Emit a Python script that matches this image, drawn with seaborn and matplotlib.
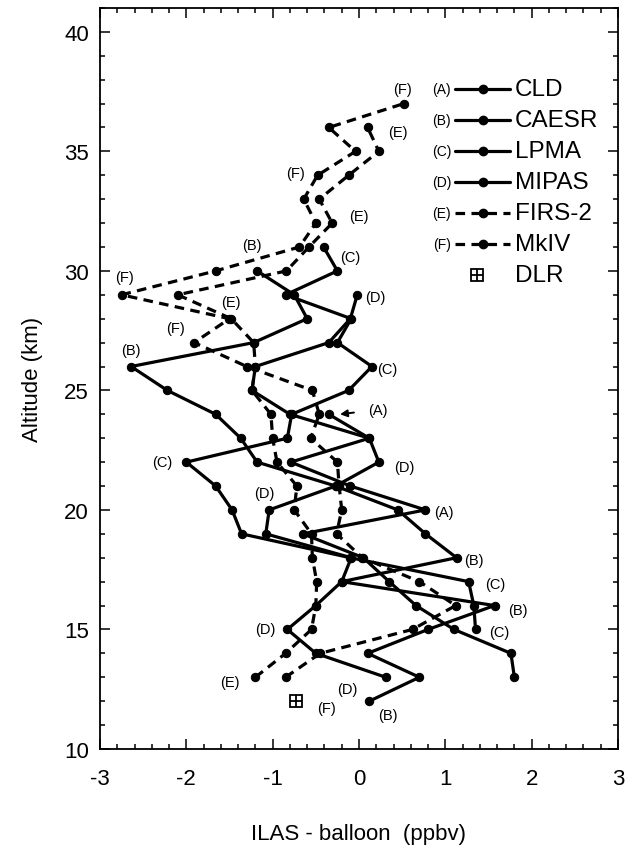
import numpy as np
import pandas as pd
import seaborn as sns
import matplotlib.pyplot as plt
from matplotlib.ticker import MultipleLocator

sns.set_style("ticks")
plt.rcParams['font.family'] = ['Liberation Sans', 'DejaVu Sans']
plt.rcParams['axes.unicode_minus'] = False
for key in ['text.color', 'axes.labelcolor', 'xtick.color', 'ytick.color', 'axes.edgecolor']:
    plt.rcParams[key] = 'black'

# ILAS - balloon differences (ppbv) vs altitude (km)
cld_alt = [24, 23, 22, 21, 20, 19, 18, 17, 16, 15, 14, 13]
cld_val = [-0.35, 0.12, -0.79, -0.10, 0.77, -0.65, 0.05, 0.35, 0.66, 1.10, 1.76, 1.80]

caesr_alt = [12, 13, 14, 15, 16, 17, 18, 19, 20, 21, 22, 23, 24, 25, 26, 27, 28, 29, 30]
caesr_val = [0.12, 0.70, 0.10, 0.80, 1.57, -0.20, 1.13, 0.77, 0.45, -0.27, -1.18, -1.37,
             -1.66, -2.22, -2.64, -1.22, -0.60, -0.75, -1.18]

lpma_alt = [15, 16, 17, 18, 19, 20, 21, 22, 23, 24, 25, 26, 27, 28, 29, 30, 31]
lpma_val = [1.35, 1.33, 1.27, -0.10, -1.36, -1.47, -1.66, -2.00, -0.83, -0.78, -0.12, 0.15,
            -0.25, -0.09, -0.85, -0.25, -0.41]

mipas_alt = [13, 14, 15, 16, 17, 18, 19, 20, 21, 22, 23, 24, 25, 26, 27, 28, 29]
mipas_val = [0.31, -0.50, -0.83, -0.50, -0.20, -0.09, -1.08, -1.04, -0.27, 0.23, 0.12, -0.80,
             -1.24, -1.20, -0.35, -0.10, -0.02]

firs_alt = list(range(13, 37))
firs_val = [-1.20, -0.85, -0.55, -0.50, -0.49, -0.54, -0.55, -0.75, -0.72, -0.95, -1.00, -1.02,
            -1.24, -1.20, -1.22, -1.48, -2.10, -0.84, -0.58, -0.31, -0.46, -0.12, 0.23, 0.10]

mkiv_alt = list(range(13, 38))
mkiv_val = [-0.85, -0.45, 0.62, 1.12, 0.70, 0.04, -0.26, -0.20, -0.23, -0.25, -0.56, -0.46,
            -0.54, -1.30, -1.91, -1.50, -2.75, -1.66, -0.69, -0.50, -0.64, -0.48, -0.04, -0.35, 0.52]

dlr_alt = [12]
dlr_val = [-0.73]

series = [
    ("(A)", "CLD", cld_alt, cld_val, "-"),
    ("(B)", "CAESR", caesr_alt, caesr_val, "-"),
    ("(C)", "LPMA", lpma_alt, lpma_val, "-"),
    ("(D)", "MIPAS", mipas_alt, mipas_val, "-"),
    ("(E)", "FIRS-2", firs_alt, firs_val, "--"),
    ("(F)", "MkIV", mkiv_alt, mkiv_val, "--"),
]

# point labels on the curves
tag_text = ["(F)", "(E)", "(F)", "(E)", "(B)", "(C)", "(F)", "(E)", "(D)", "(F)", "(B)", "(C)",
            "(D)", "(C)", "(D)", "(A)", "(B)", "(C)", "(B)", "(C)", "(D)", "(E)", "(D)", "(F)", "(B)"]
tag_x = [0.50, 0.45, -0.73, 0.00, -1.24, -0.10, -2.72, -1.48, 0.19, -2.12, -2.64, 0.33,
         0.52, -2.28, -1.10, 0.98, 1.33, 1.58, 1.84, 1.63, -1.09, -1.49, -0.13, -0.38, 0.33]
tag_y = [37.6, 35.8, 34.1, 32.3, 31.1, 30.6, 29.75, 28.7, 28.9, 27.6, 26.7, 25.9,
         21.8, 22.0, 20.7, 19.9, 17.9, 16.9, 15.8, 14.9, 15.0, 12.8, 12.5, 11.7, 11.4]

fig = plt.figure(figsize=(6.39, 8.53), dpi=100)
ax = fig.add_axes([0.1565, 0.1208, 0.8106, 0.8687])

lw = 2.3
ms = 6.0
dash = (3.0, 2.0)
for tag, name, alt, val, ls in series:
    df = pd.DataFrame({"x": val, "alt": alt})
    sns.lineplot(data=df, x="x", y="alt", sort=False, estimator=None, ax=ax,
                 color="black", linewidth=lw, marker="o", markersize=ms,
                 markeredgecolor="black", markerfacecolor="black",
                 dashes=False, linestyle=ls)
for line in ax.lines:
    if line.get_linestyle() == "--":
        line.set_dashes(dash)

ax.plot(dlr_val, dlr_alt, marker="s", markersize=9, mfc="white", mec="black", mew=1.3,
        linestyle="none", zorder=5)
ax.plot(dlr_val, dlr_alt, marker="+", markersize=9, mec="black", mew=1.3,
        linestyle="none", zorder=6)

for t, x, y in zip(tag_text, tag_x, tag_y):
    ax.text(x, y, t, fontsize=10.5, ha="center", va="center")

# arrow pointing to CLD at 24 km
ax.annotate("(A)", xy=(-0.22, 24.0), xytext=(0.22, 24.2), fontsize=10.5,
            ha="center", va="center",
            arrowprops=dict(arrowstyle="-|>", color="black", lw=1.4, shrinkA=8, shrinkB=0))

# legend drawn by hand: "(X) ---o--- NAME"
row_y0 = 0.8907
row_dy = 0.0418
for i, (tag, name, alt, val, ls) in enumerate(series):
    y = row_y0 - i * row_dy
    ax.text(0.660, y, tag, transform=ax.transAxes, fontsize=10, ha="center", va="center")
    ln, = ax.plot([0.685, 0.792], [y, y], transform=ax.transAxes, color="black",
                  linewidth=lw, linestyle=ls)
    if ls == "--":
        ln.set_dashes(dash)
    ax.plot([0.739], [y], transform=ax.transAxes, marker="o", markersize=ms, color="black")
    ax.text(0.801, y, name, transform=ax.transAxes, fontsize=17.5, ha="left", va="center")
y = row_y0 - 6 * row_dy
ax.plot([0.728], [y], transform=ax.transAxes, marker="s", markersize=9, mfc="white",
        mec="black", mew=1.3)
ax.plot([0.728], [y], transform=ax.transAxes, marker="+", markersize=9, mec="black", mew=1.3)
ax.text(0.801, y, "DLR", transform=ax.transAxes, fontsize=17.5, ha="left", va="center")

ax.set_xlim(-3, 3)
ax.set_ylim(10, 41)
ax.xaxis.set_major_locator(MultipleLocator(1))
ax.xaxis.set_minor_locator(MultipleLocator(0.2))
ax.yaxis.set_major_locator(MultipleLocator(5))
ax.yaxis.set_minor_locator(MultipleLocator(1))
ax.tick_params(which="both", direction="in", top=True, right=True, labelsize=16, width=1.1,
               colors="black")
ax.tick_params(which="major", length=7)
ax.tick_params(which="minor", length=3.5)
ax.tick_params(axis="x", which="major", pad=14)
ax.tick_params(axis="y", which="major", pad=8)
ax.set_yticks([10, 15, 20, 25, 30, 35, 40])
for s in ax.spines.values():
    s.set_linewidth(1.3)
    s.set_color("black")

ax.set_xlabel("ILAS - balloon  (ppbv)", fontsize=16, labelpad=24)
ax.set_ylabel("Altitude (km)", fontsize=16, labelpad=15)

fig.savefig("out.png", dpi=100)
